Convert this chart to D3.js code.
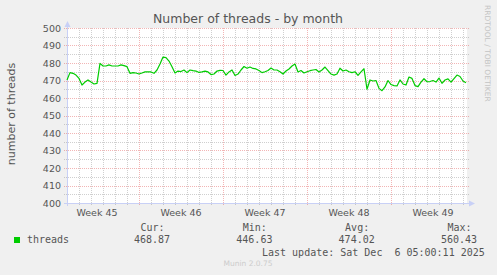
<!DOCTYPE html>
<html>
<head>
<meta charset="utf-8">
<script src="https://cdn.jsdelivr.net/npm/d3@7"></script>
<style>
  body { margin: 0; background: #f0f0f0; }
  svg { display: block; }
</style>
</head>
<body>
<div id="chart"></div>
<script>

// one value every 6 hours, starting Tue Nov 4 2025 00:00
var threads = [
  470.3, 474.5, 474.1, 473.1, 471.2, 467.4, 469.1, 470.3, 469.1, 468.0,
  468.4, 479.8, 478.3, 478.3, 478.9, 478.3, 478.3, 478.3, 478.9, 478.5,
  477.9, 474.1, 474.5, 474.3, 473.7, 474.3, 474.9, 475.0, 474.9, 474.1,
  476.0, 479.4, 483.4, 483.1, 481.1, 477.9, 474.3, 475.4, 475.1, 476.0,
  474.5, 476.0, 475.6, 475.4, 474.6, 474.9, 475.4, 474.9, 473.4, 473.7,
  475.4, 475.8, 475.7, 473.1, 474.9, 476.0, 472.9, 473.7, 476.0, 478.0,
  477.0, 477.7, 476.9, 476.6, 475.7, 474.5, 475.0, 475.7, 477.1, 476.0,
  476.0, 475.0, 473.7, 475.4, 476.6, 478.3, 479.4, 474.9, 475.7, 474.3,
  475.0, 475.6, 476.0, 476.3, 474.9, 476.0, 477.7, 475.7, 473.7, 473.1,
  473.7, 477.0, 475.4, 476.0, 475.0, 474.5, 475.0, 472.9, 474.9, 476.7,
  465.0, 470.3, 469.7, 470.0, 465.5, 464.2, 466.3, 470.0, 467.7, 467.1,
  466.9, 470.3, 468.0, 467.4, 472.0, 471.2, 467.1, 466.5, 469.1, 471.0,
  469.3, 469.4, 470.0, 469.1, 471.4, 468.4, 470.3, 470.9, 469.1, 471.1,
  473.1, 472.3, 469.7, 468.7
];
var startTime = new Date(2025, 10, 4, 0, 0);
var endTime = new Date(2025, 11, 7, 8, 0);
var stepHours = 6;

var weekLabels = ["Week 45", "Week 46", "Week 47", "Week 48", "Week 49"];
var yTicks = [400, 410, 420, 430, 440, 450, 460, 470, 480, 490, 500];
var yMinor = [405, 415, 425, 435, 445, 455, 465, 475, 485, 495];

var legendNames = ["Cur:", "Min:", "Avg:", "Max:"];
var legendValues = ["468.87", "446.63", "474.02", "560.43"];

var margin = {top: 28, left: 67},
    width = 400,
    height = 175;

var minorColor = "rgba(130,130,130,0.38)",
    majorColor = "rgba(222,60,60,0.38)",
    axisColor = "#c8d0f6",
    textColor = "#555";

var svg = d3.select("#chart")
    .append("svg")
      .attr("width", 497)
      .attr("height", 275)
      .style("font-family", "'DejaVu Sans', sans-serif");

svg.append("rect")
    .attr("width", 497).attr("height", 275)
    .attr("fill", "#f0f0f0");

var g = svg.append("g")
    .attr("transform", "translate(" + margin.left + "," + margin.top + ")");

var x = d3.scaleTime().domain([startTime, endTime]).range([0, width]);
var y = d3.scaleLinear().domain([400, 500]).range([height, 0]);

g.append("rect")
    .attr("width", width).attr("height", height)
    .attr("fill", "#fff");

// vertical grid: days (minor) and mondays (major)
var days = d3.timeDay.range(startTime, endTime).filter(function(d) { return x(d) > 1; });
var mondays = d3.timeMonday.range(startTime, endTime);

g.selectAll(".vminor")
  .data(days.filter(function(d) { return d.getDay() != 1; }))
  .enter().append("line")
    .attr("x1", function(d) { return Math.round(x(d)) + 0.5; })
    .attr("x2", function(d) { return Math.round(x(d)) + 0.5; })
    .attr("y1", 0).attr("y2", height + 3)
    .attr("stroke", minorColor)
    .attr("stroke-dasharray", "1,1");

g.selectAll(".hminor")
  .data(yMinor)
  .enter().append("line")
    .attr("x1", -3).attr("x2", width + 2)
    .attr("y1", function(d) { return Math.round(y(d)) + 0.5; })
    .attr("y2", function(d) { return Math.round(y(d)) + 0.5; })
    .attr("stroke", minorColor)
    .attr("stroke-dasharray", "1,1");

g.selectAll(".vmajor")
  .data(mondays)
  .enter().append("line")
    .attr("x1", function(d) { return Math.round(x(d)) + 0.5; })
    .attr("x2", function(d) { return Math.round(x(d)) + 0.5; })
    .attr("y1", 0).attr("y2", height + 3)
    .attr("stroke", majorColor)
    .attr("stroke-dasharray", "1,1");

g.selectAll(".hmajor")
  .data(yTicks.slice(1))
  .enter().append("line")
    .attr("x1", -3).attr("x2", width + 2)
    .attr("y1", function(d) { return Math.round(y(d)) + 0.5; })
    .attr("y2", function(d) { return Math.round(y(d)) + 0.5; })
    .attr("stroke", majorColor)
    .attr("stroke-dasharray", "1,1");

// y tick labels
g.selectAll(".ylab")
  .data(yTicks)
  .enter().append("text")
    .attr("x", -6)
    .attr("y", function(d) { return y(d) + 3.5; })
    .attr("text-anchor", "end")
    .attr("font-size", "9.5px")
    .attr("fill", textColor)
    .text(function(d) { return d; });

// week labels, centred on each week
var weekStarts = d3.timeMonday.range(d3.timeMonday.floor(startTime), endTime);
g.selectAll(".xlab")
  .data(weekLabels)
  .enter().append("text")
    .attr("x", function(d, i) { return x(d3.timeHour.offset(weekStarts[i], 84)); })
    .attr("y", height + 13)
    .attr("text-anchor", "middle")
    .attr("font-size", "9.5px")
    .attr("fill", textColor)
    .text(function(d) { return d; });

// axes with arrows
g.append("line")
    .attr("x1", 0.5).attr("x2", 0.5)
    .attr("y1", height + 3).attr("y2", -4)
    .attr("stroke", axisColor);
g.append("line")
    .attr("x1", -3).attr("x2", width + 4)
    .attr("y1", height + 0.5).attr("y2", height + 0.5)
    .attr("stroke", axisColor);
g.append("path")
    .attr("d", "M-2.5,-1 L0.5,-7 L3.5,-1 Z")
    .attr("fill", axisColor);
g.append("path")
    .attr("d", "M" + (width + 2) + "," + (height - 2.5) + " L" + (width + 8) + "," + (height + 0.5) +
         " L" + (width + 2) + "," + (height + 3.5) + " Z")
    .attr("fill", axisColor);

// data line
var line = d3.line()
    .x(function(d, i) { return x(d3.timeHour.offset(startTime, i * stepHours)); })
    .y(function(d) { return y(d); });

g.append("path")
    .datum(threads)
    .attr("d", line)
    .attr("fill", "none")
    .attr("stroke", "#00cc00")
    .attr("stroke-width", 1.2)
    .attr("stroke-linejoin", "round");

// title
svg.append("text")
    .attr("x", 248).attr("y", 23)
    .attr("text-anchor", "middle")
    .attr("font-size", "12.5px")
    .attr("fill", textColor)
    .text("Number of threads - by month");

// y axis title
svg.append("text")
    .attr("transform", "translate(15,114) rotate(-90)")
    .attr("text-anchor", "middle")
    .attr("font-size", "11px")
    .attr("fill", textColor)
    .text("number of threads");

// rrdtool credit on the right
svg.append("text")
    .attr("transform", "translate(485,5) rotate(90)")
    .attr("font-size", "7.5px")
    .attr("fill", "#c4c4c4")
    .text("RRDTOOL / TOBI OETIKER");

// legend
svg.append("rect")
    .attr("x", 14).attr("y", 237)
    .attr("width", 6).attr("height", 6)
    .attr("fill", "#00cc00");

var mono = "'DejaVu Sans Mono', monospace";

svg.append("text")
    .attr("x", 27).attr("y", 243)
    .attr("font-family", mono).attr("font-size", "10px")
    .attr("fill", textColor)
    .text("threads");

svg.selectAll(".lname")
  .data(legendNames)
  .enter().append("text")
    .attr("x", function(d, i) { return 140.5 + i * 102.3; })
    .attr("y", 230.5)
    .attr("font-family", mono).attr("font-size", "10px")
    .attr("fill", textColor)
    .text(function(d) { return d; });

svg.selectAll(".lval")
  .data(legendValues)
  .enter().append("text")
    .attr("x", function(d, i) { return 134 + i * 102.3; })
    .attr("y", 243)
    .attr("font-family", mono).attr("font-size", "10px")
    .attr("fill", textColor)
    .text(function(d) { return d; });

svg.append("text")
    .attr("x", 262).attr("y", 255.5)
    .attr("font-family", mono).attr("font-size", "10px")
    .attr("fill", textColor)
    .attr("xml:space", "preserve")
    .style("white-space", "pre")
    .text("Last update: Sat Dec  6 05:00:11 2025");

svg.append("text")
    .attr("x", 248).attr("y", 266)
    .attr("text-anchor", "middle")
    .attr("font-size", "7.5px")
    .attr("fill", "#cccccc")
    .text("Munin 2.0.75");

</script>
</body>
</html>
